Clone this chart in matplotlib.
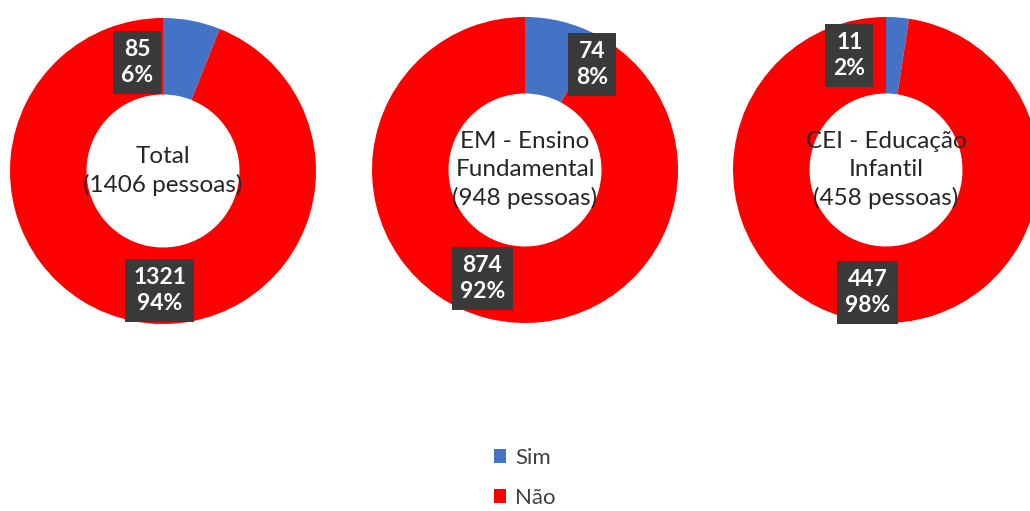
import matplotlib.pyplot as plt
from matplotlib.patches import Patch

plt.rcParams['font.family'] = ['Lato', 'DejaVu Sans']

titulos = ['Total\n(1406 pessoas)',
           'EM - Ensino\nFundamental\n(948 pessoas)',
           'CEI - Educação\nInfantil\n(458 pessoas)']
categorias = ['Sim', 'Não']
sim = [85, 74, 11]
nao = [1321, 874, 447]
sim_pct = ['6%', '8%', '2%']
nao_pct = ['94%', '92%', '98%']

cores = ['#4472C4', '#FF0000']

W, H = 1030, 511
centros = [(163, 171), (525, 170), (886, 170)]
raio = 153
# label offsets (in units of outer radius) for Sim / Não
pos_sim = [(-0.17, 0.71), (0.44, 0.69), (-0.24, 0.75)]
pos_nao = [(-0.02, -0.78), (-0.28, -0.71), (-0.12, -0.80)]

fig = plt.figure(figsize=(W / 100, H / 100), dpi=100)

for i in range(3):
    cx, cy = centros[i]
    ax = fig.add_axes([(cx - raio) / W, (H - cy - raio) / H, 2 * raio / W, 2 * raio / H])
    ax.pie([sim[i], nao[i]], colors=cores, startangle=90, counterclock=False,
           radius=1.0, wedgeprops=dict(width=0.5, edgecolor='none'))
    ax.set_xlim(-1, 1)
    ax.set_ylim(-1, 1)
    ax.set_aspect('equal')
    ax.axis('off')
    ax.text(0, 0, titulos[i], ha='center', va='center', fontsize=17.5,
            color='#262626', linespacing=1.4)
    box = dict(boxstyle='square,pad=0.35', facecolor='#3a3a3a', edgecolor='none')
    ax.text(pos_sim[i][0], pos_sim[i][1], f'{sim[i]}\n{sim_pct[i]}', ha='center', va='center',
            fontsize=16.5, fontweight='bold', color='white', linespacing=1.3, bbox=box,
            clip_on=False)
    ax.text(pos_nao[i][0], pos_nao[i][1], f'{nao[i]}\n{nao_pct[i]}', ha='center', va='center',
            fontsize=16.5, fontweight='bold', color='white', linespacing=1.3, bbox=box,
            clip_on=False)

handles = [Patch(facecolor=c, edgecolor='none') for c in cores]
fig.legend(handles, categorias, loc='center', bbox_to_anchor=(525 / W, 1 - 478 / H),
           frameon=False, fontsize=16, handlelength=0.55, handleheight=0.55,
           handletextpad=0.4, labelspacing=0.9, labelcolor='#404040')

fig.savefig('out.png', dpi=100)
